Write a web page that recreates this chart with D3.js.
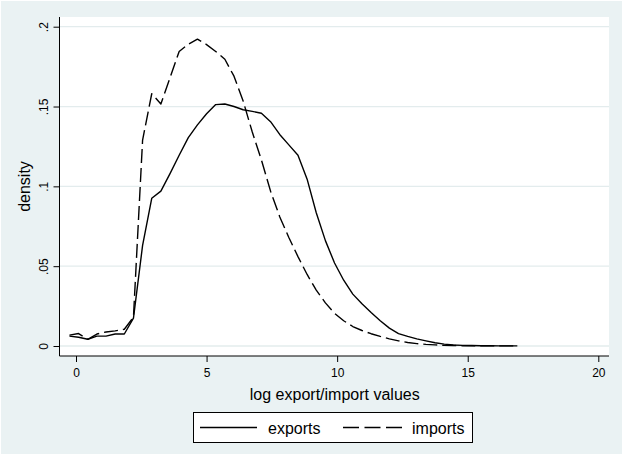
<!DOCTYPE html>
<html>
<head>
<meta charset="utf-8">
<script src="https://cdn.jsdelivr.net/npm/d3@7"></script>
<style>
  html, body { margin: 0; padding: 0; background: #ffffff; }
  svg { display: block; font-family: "Liberation Sans", Arial, sans-serif; }
</style>
</head>
<body>
<div id="chart"></div>
<script>
// evaluation grid of the kernel density (log export/import values)
const xValues = [
  -0.25, 0.1, 0.45, 0.8, 1.15, 1.5, 1.85, 2.2, 2.55, 2.9,
  3.25, 3.6, 3.95, 4.3, 4.65, 5.0, 5.35, 5.7, 6.05, 6.4,
  6.75, 7.1, 7.45, 7.8, 8.15, 8.5, 8.85, 9.2, 9.55, 9.9,
  10.25, 10.6, 10.95, 11.3, 11.65, 12.0, 12.35, 12.7, 13.05, 13.4,
  13.75, 14.1, 14.45, 14.8, 15.15, 15.5, 15.85, 16.2, 16.55, 16.9
];

const exportsDensity = [
  0.0062, 0.0055, 0.0042, 0.0062, 0.0062, 0.0075, 0.0075, 0.0175, 0.063, 0.0925,
  0.097, 0.108, 0.1195, 0.1305, 0.1385, 0.1455, 0.1512, 0.1516, 0.150, 0.148,
  0.147, 0.1458, 0.1405, 0.1325, 0.126, 0.1195, 0.1045, 0.0835, 0.066, 0.052,
  0.0412, 0.0325, 0.0265, 0.021, 0.0158, 0.0112, 0.0078, 0.006, 0.0045, 0.0032,
  0.002, 0.0012, 0.0006, 0.0004, 0.0003, 0.0002, 0.0002, 0.0001, 0.0001, 0.0001
];

const importsDensity = [
  0.0068, 0.0078, 0.0042, 0.0075, 0.0088, 0.0095, 0.0105, 0.018, 0.129, 0.158,
  0.1516, 0.168, 0.1845, 0.189, 0.1922, 0.1888, 0.1845, 0.1796, 0.169, 0.1535,
  0.134, 0.1165, 0.097, 0.081, 0.068, 0.056, 0.0448, 0.035, 0.027, 0.0205,
  0.0158, 0.0122, 0.0097, 0.0077, 0.006, 0.0045, 0.0032, 0.0022, 0.0015, 0.001,
  0.0007, 0.0004, 0.0003, 0.0002, 0.0001, 0.0001, 0.0001, 0.0001, 0.0001, 0.0001
];

const xTicks = [0, 5, 10, 15, 20];
const yTicks = [0, 0.05, 0.1, 0.15, 0.2];
const yTickLabels = ['0', '.05', '.1', '.15', '.2'];
const seriesNames = ['exports', 'imports'];

const width = 623;
const height = 455;
const plot = { left: 59.5, right: 609, top: 17, bottom: 356 };
const bg = '#eaf2f3';

const svg = d3.select('#chart')
  .append('svg')
  .attr('width', width)
  .attr('height', height);

svg.append('rect')
  .attr('x', 1).attr('y', 1)
  .attr('width', width - 2).attr('height', height - 2)
  .attr('fill', bg);

const x = d3.scaleLinear().domain([0, 20]).range([76, 598.3]);
const y = d3.scaleLinear().domain([0, 0.2]).range([346, 26.7]);

// plot region
svg.append('rect')
  .attr('x', plot.left).attr('y', plot.top)
  .attr('width', plot.right - plot.left)
  .attr('height', plot.bottom - plot.top)
  .attr('fill', '#ffffff');

// gridlines
svg.append('g')
  .selectAll('line')
  .data(yTicks)
  .join('line')
  .attr('x1', plot.left).attr('x2', plot.right)
  .attr('y1', d => y(d)).attr('y2', d => y(d))
  .attr('stroke', '#e3eced')
  .attr('stroke-width', 1.3);

// Y axis
svg.append('g')
  .attr('transform', `translate(${plot.left},0)`)
  .call(d3.axisLeft(y).tickValues(yTicks).tickSize(6).tickPadding(0)
    .tickFormat((d, i) => yTickLabels[i]))
  .call(g => g.select('.domain').remove())
  .call(g => g.selectAll('.tick line').attr('stroke', '#000'))
  .call(g => g.selectAll('.tick text')
    .attr('x', null).attr('dy', null)
    .attr('transform', 'translate(-11.5,0) rotate(-90)')
    .attr('text-anchor', 'middle')
    .attr('fill', '#000')
    .style('font-size', '12px'));

svg.append('line')
  .attr('x1', plot.left).attr('x2', plot.left)
  .attr('y1', plot.top).attr('y2', plot.bottom)
  .attr('stroke', '#000');

// X axis
svg.append('g')
  .attr('transform', `translate(0,${plot.bottom})`)
  .call(d3.axisBottom(x).tickValues(xTicks).tickSize(6).tickPadding(0))
  .call(g => g.select('.domain').remove())
  .call(g => g.selectAll('.tick line').attr('stroke', '#000'))
  .call(g => g.selectAll('.tick text')
    .attr('y', 21).attr('dy', null)
    .attr('fill', '#000')
    .style('font-size', '12px'));

svg.append('line')
  .attr('x1', plot.left).attr('x2', plot.right)
  .attr('y1', plot.bottom).attr('y2', plot.bottom)
  .attr('stroke', '#000');

// axis titles
svg.append('text')
  .attr('x', (plot.left + plot.right) / 2 + 0.5)
  .attr('y', 400)
  .attr('text-anchor', 'middle')
  .style('font-size', '16px')
  .text('log export/import values');

svg.append('text')
  .attr('transform', `translate(29.5,${(plot.top + plot.bottom) / 2}) rotate(-90)`)
  .attr('text-anchor', 'middle')
  .style('font-size', '16px')
  .text('density');

// curves
const line = d3.line()
  .x(d => x(d[0]))
  .y(d => y(d[1]));

const dashes = [null, '14,5'];

[exportsDensity, importsDensity].forEach((vals, i) => {
  svg.append('path')
    .datum(xValues.map((v, j) => [v, vals[j]]))
    .attr('d', line)
    .attr('fill', 'none')
    .attr('stroke', '#000')
    .attr('stroke-width', 1.4)
    .attr('stroke-linejoin', 'round')
    .attr('stroke-dasharray', dashes[i]);
});

// legend
const legend = svg.append('g');
legend.append('rect')
  .attr('x', 193.5).attr('y', 412.5)
  .attr('width', 279).attr('height', 30)
  .attr('fill', '#fff')
  .attr('stroke', '#000');

const legendItems = [
  { x1: 200, x2: 257, tx: 268, dash: null },
  { x1: 343, x2: 402, tx: 412, dash: '16,5.5' }
];

legendItems.forEach((it, i) => {
  legend.append('line')
    .attr('x1', it.x1).attr('x2', it.x2)
    .attr('y1', 427.5).attr('y2', 427.5)
    .attr('stroke', '#000')
    .attr('stroke-width', 1.4)
    .attr('stroke-dasharray', it.dash);
  legend.append('text')
    .attr('x', it.tx).attr('y', 433.5)
    .style('font-size', '16px')
    .text(seriesNames[i]);
});
</script>
</body>
</html>
